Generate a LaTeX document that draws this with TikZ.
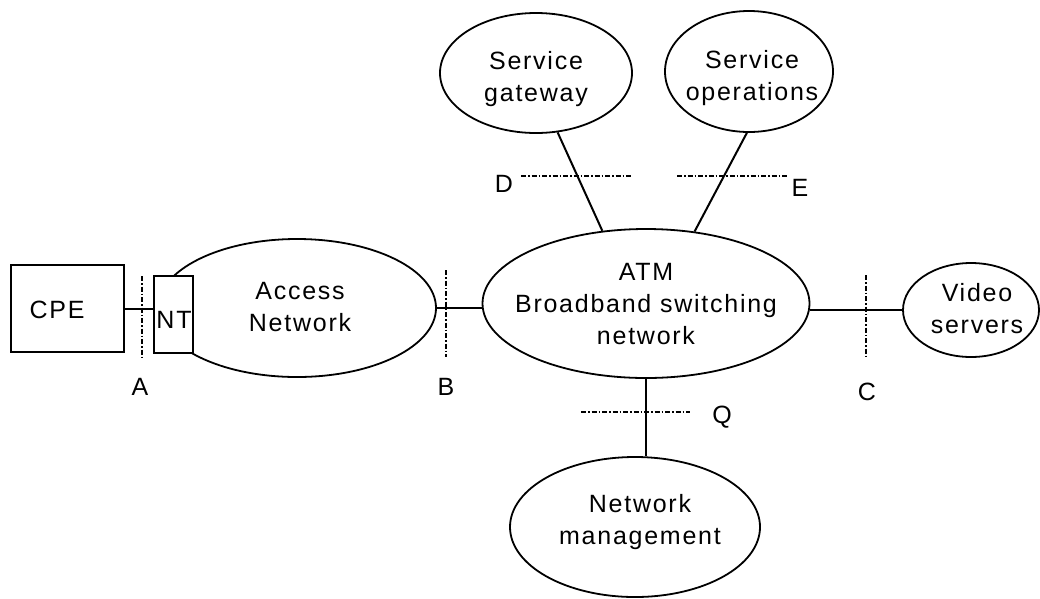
\documentclass[tikz,border=0pt]{standalone}
\usepackage{fontspec}
\newfontfamily\diafont{Liberation Sans}[LetterSpace=7]
\usetikzlibrary{shapes.geometric}
\begin{document}
\begin{tikzpicture}[x=1pt, y=-1pt,
  ell_style/.style={ellipse,draw=black,line width=1.8pt,inner sep=0pt},
  box_style/.style={rectangle,draw=black,line width=1.8pt,inner sep=0pt},
  txt_style/.style={align=center,inner sep=0pt,font=\diafont\fontsize{25}{32}\selectfont},
  edge_style/.style={draw=black,line width=2pt},
  iface_style/.style={draw=black,line width=1.5pt,dash pattern=on 5pt off 2pt on 1.5pt off 2pt}]
  \useasboundingbox (0,0) rectangle (1040,598);
  \draw
    (67.5,308.5) node[box_style,minimum width=113pt,minimum height=87pt] (cpe){}
    (297,308) node[ell_style,minimum width=278pt,minimum height=138pt] (acc){}
    (173.5,314.5) node[box_style,fill=white,minimum width=39pt,minimum height=77pt] (nt){}
    (646,303.5) node[ell_style,minimum width=327pt,minimum height=149pt] (atm){}
    (536,73) node[ell_style,minimum width=192pt,minimum height=120pt] (sg){}
    (749,71.5) node[ell_style,minimum width=168pt,minimum height=121pt] (so){}
    (971,310) node[ell_style,minimum width=136pt,minimum height=94pt] (vs){}
    (635,527) node[ell_style,minimum width=250pt,minimum height=140pt] (nm){};
  \draw
    (57,310) node[txt_style] (cpe_t){CPE}
    (174,320) node[txt_style] (nt_t){NT}
    (300,307) node[txt_style] (acc_t){Access\\Network}
    (646,304) node[txt_style] (atm_t){ATM\\Broadband switching\\network}
    (536,79) node[txt_style] (sg_t){Service\\gateway}
    (752,78) node[txt_style] (so_t){Service\\operations}
    (977,309) node[txt_style] (vs_t){Video\\servers}
    (640,522) node[txt_style] (nm_t){Network\\management}
    (140,387) node[txt_style] (A){A}
    (446,387) node[txt_style] (B){B}
    (867,392) node[txt_style] (C){C}
    (504,184) node[txt_style] (D){D}
    (800,188) node[txt_style] (E){E}
    (722,417) node[txt_style] (Q){Q};
  % interface points
  \coordinate (a1) at (142,276); \coordinate (a2) at (142,357);
  \coordinate (b1) at (446,270); \coordinate (b2) at (446,357);
  \coordinate (c1) at (866,275); \coordinate (c2) at (866,357);
  \coordinate (d1) at (521,176); \coordinate (d2) at (631,176);
  \coordinate (e1) at (677,176); \coordinate (e2) at (787,176);
  \coordinate (q1) at (581,412); \coordinate (q2) at (690,412);
  \draw[iface_style] (a1) -- (a2);
  \draw[iface_style] (b1) -- (b2);
  \draw[iface_style] (c1) -- (c2);
  \draw[iface_style] (d1) -- (d2);
  \draw[iface_style] (e1) -- (e2);
  \draw[iface_style] (q1) -- (q2);
  % links
  \draw[edge_style] (cpe.east) -- (cpe.east -| nt.west);
  \draw[edge_style] (acc.east) -- (acc.east -| atm.west);
  \draw[edge_style] (vs.west -| atm.east) -- (vs.west);
  \draw[edge_style] (sg.290) -- (atm.121);
  \draw[edge_style] (so.268) -- (atm.56);
  \draw[edge_style] (atm.south) -- (nm.north -| atm.south);
\end{tikzpicture}
\end{document}
